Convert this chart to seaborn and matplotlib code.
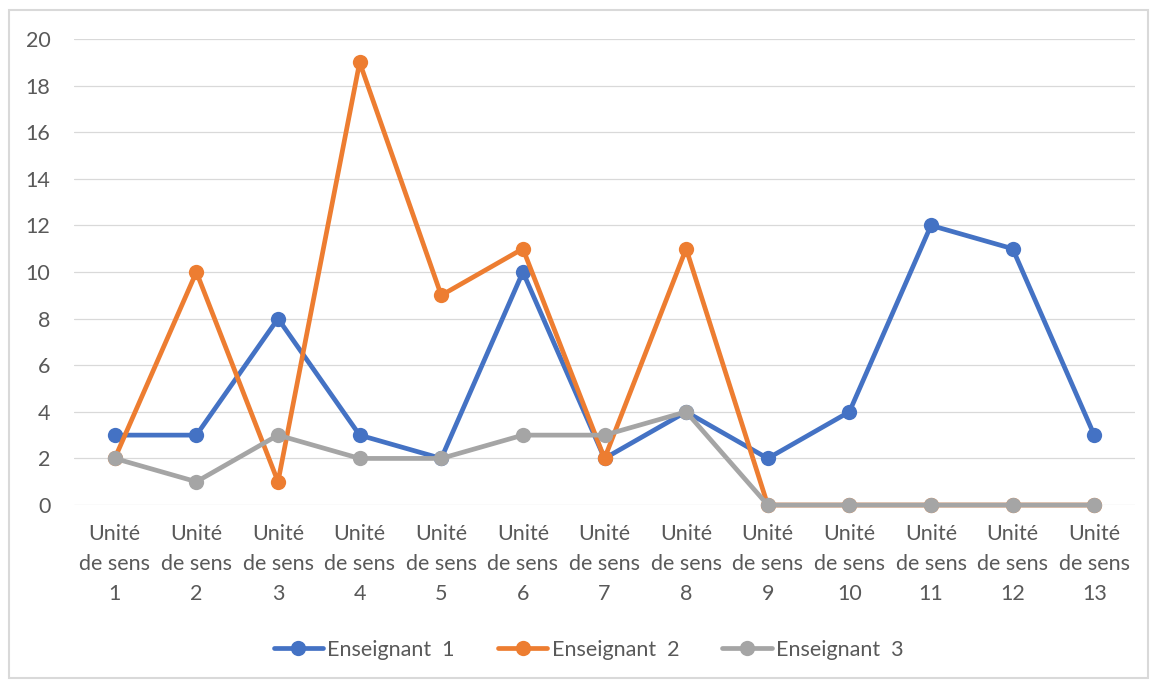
import pandas as pd
import seaborn as sns
import matplotlib.pyplot as plt
from matplotlib.patches import Rectangle
from matplotlib.lines import Line2D

# Chart values
units = [f"Unité\nde sens\n{i}" for i in range(1, 14)]
enseignant_1 = [3, 3, 8, 3, 2, 10, 2, 4, 2, 4, 12, 11, 3]
enseignant_2 = [2, 10, 1, 19, 9, 11, 2, 11, 0, 0, 0, 0, 0]
enseignant_3 = [2, 1, 3, 2, 2, 3, 3, 4, 0, 0, 0, 0, 0]
series_names = ["Enseignant  1", "Enseignant  2", "Enseignant  3"]
colors = ["#4472C4", "#ED7D31", "#A5A5A5"]

# Long-form frame for seaborn
frames = []
for name, vals in zip(series_names, [enseignant_1, enseignant_2, enseignant_3]):
    frames.append(pd.DataFrame({"pos": range(len(units)), "value": vals, "serie": name}))
df = pd.concat(frames, ignore_index=True)

sns.set_style("white")
plt.rcParams['font.family'] = ['Lato', 'DejaVu Sans']
text_color = "#595959"
fsize = 15.5

fig = plt.figure(figsize=(11.52, 6.81), dpi=100)
ax = fig.add_axes([0.0642, 0.2584, 0.9211, 0.6843])

for name, col in zip(series_names, colors):
    sns.lineplot(data=df[df["serie"] == name], x="pos", y="value", color=col,
                 linewidth=3.4, marker="o", markersize=11, markeredgewidth=0,
                 ax=ax, legend=False, clip_on=False)

ax.set_xlim(-0.5, len(units) - 0.5)
ax.set_ylim(0, 20)
ax.set_yticks(range(0, 21, 2))
ax.set_xticks(range(len(units)))
ax.set_xticklabels(units, linespacing=1.6)
ax.yaxis.grid(True, color="#D9D9D9", linewidth=0.9)
ax.set_axisbelow(True)
ax.tick_params(axis="both", length=0, labelsize=fsize, colors=text_color)
ax.tick_params(axis="x", pad=14)
ax.tick_params(axis="y", pad=17)
ax.set_xlabel("")
ax.set_ylabel("")
for s in ax.spines.values():
    s.set_visible(False)

handles = [Line2D([0], [0], color=c, linewidth=3.4, marker="o", markersize=11,
                  markeredgewidth=0) for c in colors]
fig.legend(handles, series_names, loc="center", bbox_to_anchor=(0.511, 0.046),
           ncol=3, frameon=False, fontsize=fsize, labelcolor=text_color,
           handlelength=2.3, handletextpad=0.2, columnspacing=2.0)

# Outer chart border
fig.patches.append(Rectangle((9 / 1152, 3 / 681), 1139 / 1152, 668 / 681,
                             transform=fig.transFigure, fill=False,
                             edgecolor="#D9D9D9", linewidth=1.5))

fig.savefig("out.png", dpi=100)
